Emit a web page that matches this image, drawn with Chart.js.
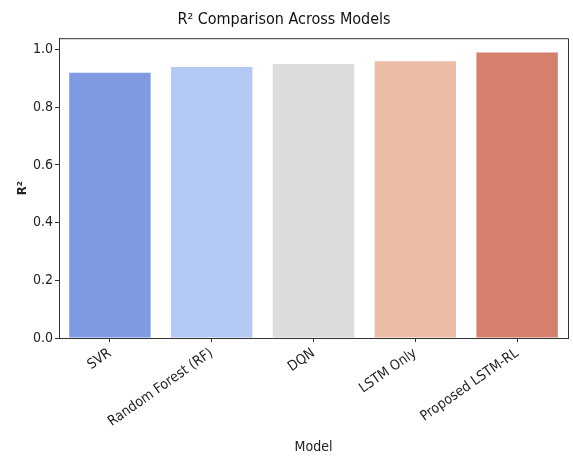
<!DOCTYPE html>
<html>
<head>
<meta charset="utf-8">
<script src="https://cdn.jsdelivr.net/npm/chart.js@4"></script>
<style>
  html, body { margin: 0; padding: 0; background: #fff; }
  #wrap { width: 573px; height: 457px; }
</style>
</head>
<body>
<div id="wrap"><canvas id="r2-chart" width="573" height="457"></canvas></div>
<script>
const models = ['SVR', 'Random Forest (RF)', 'DQN', 'LSTM Only', 'Proposed LSTM-RL'];
const r2Values = [0.92, 0.94, 0.95, 0.96, 0.99];
const barColors = ['#7f9ae3', '#b3c8f2', '#dcdcdc', '#ebbca6', '#d5806c'];
const yTicks = [0, 0.2, 0.4, 0.6, 0.8, 1.0];

const FONT = '"Liberation Sans Narrow", "DejaVu Sans Condensed", "DejaVu Sans", sans-serif';

// matplotlib-style frame: top and right spines
const framePlugin = {
    id: 'frame',
    afterDraw(chart) {
        const { ctx, chartArea: a } = chart;
        ctx.save();
        ctx.strokeStyle = '#333';
        ctx.lineWidth = 1;
        ctx.beginPath();
        ctx.moveTo(a.left, a.top + 0.5);
        ctx.lineTo(a.right + 0.5, a.top + 0.5);
        ctx.lineTo(a.right + 0.5, a.bottom);
        ctx.stroke();
        ctx.restore();
    }
};

new Chart(document.getElementById('r2-chart'), {
    type: 'bar',
    data: {
        labels: models,
        datasets: [{
            label: 'R²',
            data: r2Values,
            backgroundColor: barColors,
            borderWidth: 0,
            categoryPercentage: 1.0,
            barPercentage: 0.8
        }]
    },
    options: {
        responsive: false,
        animation: false,
        layout: { padding: { left: 0, right: 5, top: 0, bottom: 0 } },
        plugins: {
            legend: { display: false },
            tooltip: { enabled: false },
            title: {
                display: true,
                text: 'R² Comparison Across Models',
                color: '#111',
                font: { family: FONT, size: 16, weight: 'normal' },
                padding: { top: 10, bottom: 9 }
            }
        },
        scales: {
            x: {
                grid: { display: true, offset: false, drawOnChartArea: false, drawTicks: true, tickLength: 4, color: '#333' },
                border: { display: true, color: '#333', width: 1 },
                ticks: {
                    color: '#222',
                    font: { family: FONT, size: 14 },
                    minRotation: 35,
                    maxRotation: 35,
                    padding: 3,
                    autoSkip: false
                },
                title: {
                    display: true,
                    text: 'Model',
                    color: '#222',
                    font: { family: FONT, size: 14 },
                    padding: { top: 0, bottom: 1 }
                },
                afterFit(scale) { scale.height = 119; }
            },
            y: {
                min: 0,
                max: 1.0395,
                grid: { display: true, drawOnChartArea: false, drawTicks: true, tickLength: 4, color: '#333' },
                border: { display: true, color: '#333', width: 1 },
                afterBuildTicks(scale) { scale.ticks = yTicks.map(v => ({ value: v })); },
                ticks: {
                    color: '#222',
                    font: { family: FONT, size: 14 },
                    padding: 2,
                    callback: v => Number(v).toFixed(1)
                },
                title: {
                    display: true,
                    text: 'R²',
                    color: '#222',
                    font: { family: FONT, size: 13, weight: 'bold' },
                    padding: { top: 15, bottom: 0 }
                },
                afterFit(scale) { scale.width = 59; }
            }
        }
    },
    plugins: [framePlugin]
});
</script>
</body>
</html>
